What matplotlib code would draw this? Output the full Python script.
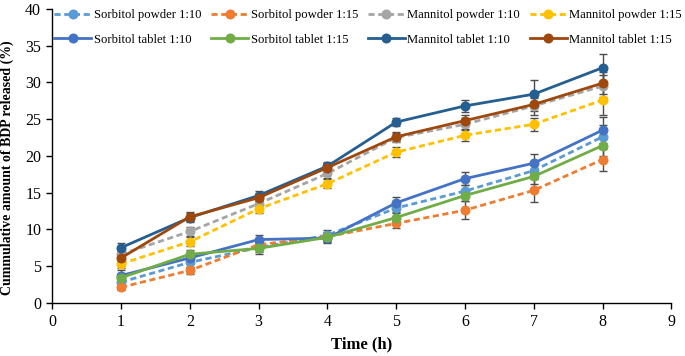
import matplotlib
matplotlib.use("Agg")
import matplotlib.pyplot as plt
from matplotlib.lines import Line2D

plt.rcParams['font.family'] = ['Liberation Serif', 'DejaVu Serif']

time_h = [1, 2, 3, 4, 5, 6, 7, 8]

labels = ["Sorbitol powder 1:10", "Sorbitol powder 1:15", "Mannitol powder 1:10", "Mannitol powder 1:15",
          "Sorbitol tablet 1:10", "Sorbitol tablet 1:15", "Mannitol tablet 1:10", "Mannitol tablet 1:15"]

sorbitol_powder_10 = [2.8, 5.5, 7.5, 9.2, 12.9, 15.2, 18.0, 22.6]
sorbitol_powder_15 = [2.1, 4.4, 7.9, 9.0, 10.8, 12.6, 15.3, 19.5]
mannitol_powder_10 = [6.6, 9.7, 13.5, 17.6, 22.5, 24.3, 26.8, 29.5]
mannitol_powder_15 = [5.3, 8.3, 12.8, 16.2, 20.5, 22.8, 24.3, 27.6]
sorbitol_tablet_10 = [3.7, 6.1, 8.6, 8.8, 13.6, 16.9, 19.0, 23.5]
sorbitol_tablet_15 = [3.4, 6.6, 7.4, 8.9, 11.6, 14.6, 17.2, 21.4]
mannitol_tablet_10 = [7.5, 11.6, 14.6, 18.6, 24.6, 26.8, 28.4, 32.0]
mannitol_tablet_15 = [6.1, 11.7, 14.3, 18.4, 22.6, 24.8, 27.0, 29.9]

err_sp10 = [0.6, 0.6, 0.6, 0.7, 0.7, 0.8, 1.0, 1.6]
err_sp15 = [0.4, 0.5, 0.5, 0.6, 0.6, 1.2, 1.6, 1.6]
err_mp10 = [0.7, 0.6, 0.6, 0.6, 0.6, 0.8, 1.3, 1.5]
err_mp15 = [0.6, 0.6, 0.6, 0.6, 0.7, 0.8, 0.9, 2.0]
err_st10 = [0.7, 0.6, 0.6, 0.7, 0.8, 0.9, 1.2, 1.8]
err_st15 = [0.6, 0.6, 0.7, 0.6, 0.7, 0.8, 1.0, 1.4]
err_mt10 = [0.6, 0.6, 0.6, 0.6, 0.6, 0.8, 1.9, 1.9]
err_mt15 = [0.6, 0.6, 0.6, 0.6, 0.6, 0.8, 0.9, 1.5]

series = [sorbitol_powder_10, sorbitol_powder_15, mannitol_powder_10, mannitol_powder_15,
          sorbitol_tablet_10, sorbitol_tablet_15, mannitol_tablet_10, mannitol_tablet_15]
errors = [err_sp10, err_sp15, err_mp10, err_mp15, err_st10, err_st15, err_mt10, err_mt15]
colors = ["#5B9BD5", "#ED7D31", "#A5A5A5", "#FFC000", "#4472C4", "#70AD47", "#255E91", "#9E480E"]
dashed = [True, True, True, True, False, False, False, False]

fig = plt.figure(figsize=(6.85, 3.56), dpi=100)
ax = fig.add_axes([0.0764, 0.1497, 0.9036, 0.825])

handles = []
for ys, es, c, d, lab in zip(series, errors, colors, dashed, labels):
    ls = (0, (2.2, 1.3)) if d else '-'
    ax.errorbar(time_h, ys, yerr=es, color=c, ls=ls, lw=2.0, marker='o', ms=6.2,
                ecolor='#4D4D4D', elinewidth=1.0, capsize=3, capthick=1.0, zorder=3)
    handles.append(Line2D([], [], color=c, ls=ls, lw=2.0, marker='o', ms=6.2, label=lab))

ax.set_xlim(0, 9)
ax.set_ylim(0, 40)
ax.set_xticks(range(0, 10))
ax.set_yticks(range(0, 41, 5))
for s in ['top', 'right']:
    ax.spines[s].set_visible(False)
for s in ['left', 'bottom']:
    ax.spines[s].set_linewidth(1.0)
ax.tick_params(axis='both', labelsize=11.5, direction='out', length=4, width=1.0, pad=4)
ax.set_xlabel("Time (h)", fontsize=12, fontweight='bold', labelpad=5)
ax.set_ylabel("Cummulative amount of BDP released (%)", fontsize=10.0, fontweight='bold')
ax.yaxis.set_label_coords(-0.0625, 0.46)

order = [0, 4, 1, 5, 2, 6, 3, 7]
fig.legend(handles=[handles[i] for i in order], ncol=4, loc='upper left', bbox_to_anchor=(0.079, 0.974),
           frameon=False, fontsize=9.1, handlelength=2.95, handletextpad=0.2,
           columnspacing=0.75, labelspacing=1.0, borderpad=0.0, borderaxespad=0.0)

fig.savefig("out.png", dpi=100)
